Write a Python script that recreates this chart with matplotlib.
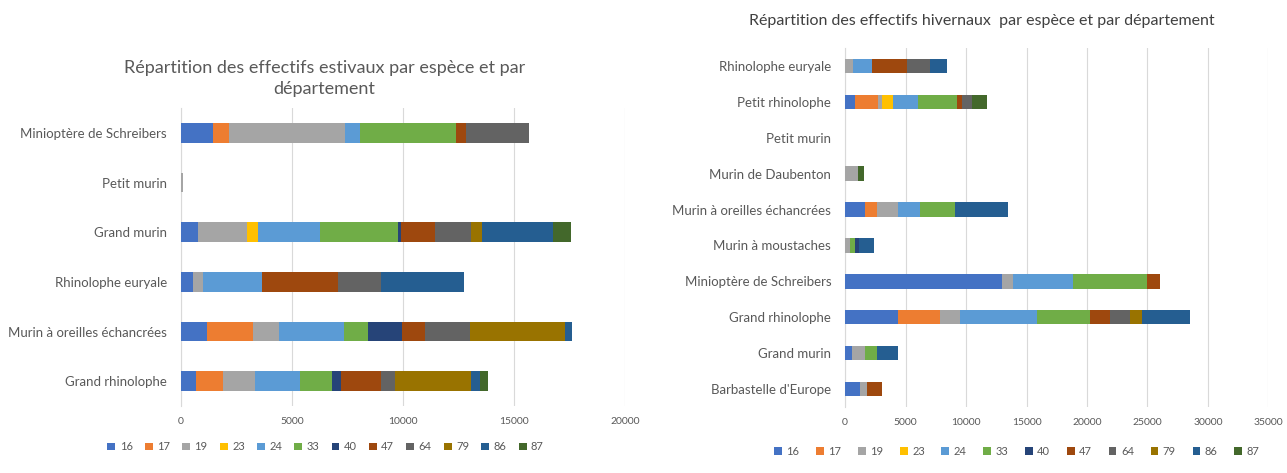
import numpy as np
import matplotlib
matplotlib.use("Agg")
import matplotlib.pyplot as plt

plt.rcParams['font.family'] = ['Lato', 'DejaVu Sans']

depts = ['16', '17', '19', '23', '24', '33', '40', '47', '64', '79', '86', '87']
colors = ['#4472C4', '#ED7D31', '#A5A5A5', '#FFC000', '#5B9BD5', '#70AD47',
          '#264478', '#9E480E', '#636363', '#997300', '#255E91', '#43682B']

# summer chart (top -> bottom)
summer_species = ['Minioptère de Schreibers', 'Petit murin', 'Grand murin',
                  'Rhinolophe euryale', 'Murin à oreilles échancrées', 'Grand rhinolophe']
s16 = [1425, 0, 780, 525, 1155, 675]
s17 = [750, 0, 0, 0, 2100, 1230]
s19 = [5200, 80, 2175, 480, 1170, 1425]
s23 = [0, 0, 525, 0, 0, 0]
s24 = [675, 0, 2775, 2625, 2910, 2025]
s33 = [4350, 0, 3525, 0, 1095, 1470]
s40 = [0, 0, 150, 0, 1545, 405]
s47 = [450, 0, 1500, 3450, 1005, 1800]
s64 = [2820, 0, 1650, 1950, 2025, 600]
s79 = [0, 0, 495, 0, 4275, 3450]
s86 = [0, 0, 3180, 3705, 345, 375]
s87 = [0, 0, 825, 0, 0, 375]
summer = [s16, s17, s19, s23, s24, s33, s40, s47, s64, s79, s86, s87]

# winter chart (top -> bottom)
winter_species = ['Rhinolophe euryale', 'Petit rhinolophe', 'Petit murin', 'Murin de Daubenton',
                  'Murin à oreilles échancrées', 'Murin à moustaches', 'Minioptère de Schreibers',
                  'Grand rhinolophe', 'Grand murin', "Barbastelle d'Europe"]
w16 = [0, 825, 0, 0, 1650, 0, 12950, 4410, 550, 1240]
w17 = [0, 1930, 0, 0, 965, 0, 0, 3445, 0, 0]
w19 = [690, 275, 0, 1100, 1790, 450, 965, 1650, 1100, 550]
w23 = [0, 965, 0, 0, 0, 0, 0, 0, 0, 0]
w24 = [1515, 2065, 0, 0, 1790, 0, 4960, 6340, 0, 0]
w33 = [0, 3170, 0, 0, 2890, 350, 6060, 4410, 965, 0]
w40 = [0, 0, 0, 0, 0, 350, 0, 0, 0, 0]
w47 = [2890, 410, 0, 0, 0, 0, 1100, 1650, 0, 1240]
w64 = [1930, 825, 0, 0, 0, 0, 0, 1650, 0, 0]
w79 = [0, 0, 0, 0, 0, 0, 0, 965, 0, 0]
w86 = [1380, 0, 0, 0, 4350, 1250, 0, 3995, 1790, 0]
w87 = [0, 1240, 0, 470, 0, 0, 0, 0, 0, 0]
winter = [w16, w17, w19, w23, w24, w33, w40, w47, w64, w79, w86, w87]

txt = '#595959'


def stacked(ax, species, series, xmax):
    y = np.arange(len(species))
    left = np.zeros(len(species))
    for name, vals, c in zip(depts, series, colors):
        vals = np.array(vals, dtype=float)
        ax.barh(y, vals, left=left, height=0.4, color=c, label=name, zorder=3)
        left += vals
    ax.set_yticks(y)
    ax.set_yticklabels(species, fontsize=9.5, color=txt)
    ax.set_ylim(len(species) - 0.5, -0.5)
    ax.set_xlim(0, xmax)
    ax.set_xticks(np.arange(0, xmax + 1, 5000))
    ax.tick_params(axis='x', labelsize=7.5, colors=txt, length=0, pad=8)
    ax.tick_params(axis='y', length=0, pad=10)
    ax.grid(axis='x', color='#D9D9D9', linewidth=0.8, zorder=0)
    for s in ['top', 'right', 'bottom']:
        ax.spines[s].set_visible(False)
    ax.spines['left'].set_color('#D9D9D9')


fig = plt.figure(figsize=(12.87, 4.73), dpi=100)
ax1 = fig.add_axes([0.1406, 0.1416, 0.345, 0.630])
ax2 = fig.add_axes([0.6566, 0.1395, 0.329, 0.759])

stacked(ax1, summer_species, summer, 20000)
stacked(ax2, winter_species, winter, 35000)

fig.text(0.252, 0.795, "Répartition des effectifs estivaux par espèce et par\ndépartement",
         ha='center', va='bottom', fontsize=13, color=txt, linespacing=1.35)
fig.text(0.763, 0.94, "Répartition des effectifs hivernaux  par espèce et par département",
         ha='center', va='bottom', fontsize=11.5, color='#404040')

for ax, xc, yc, sp in [(ax1, 0.253, 0.055, 1.1), (ax2, 0.79, 0.045, 1.5)]:
    h, l = ax.get_legend_handles_labels()
    leg = fig.legend(h, l, loc='center', bbox_to_anchor=(xc, yc), ncol=12, frameon=False,
                     fontsize=8, handlelength=0.7, handleheight=0.7, handletextpad=0.4,
                     columnspacing=sp)
    for t in leg.get_texts():
        t.set_color(txt)

fig.savefig('out.png', dpi=100, facecolor='white')
